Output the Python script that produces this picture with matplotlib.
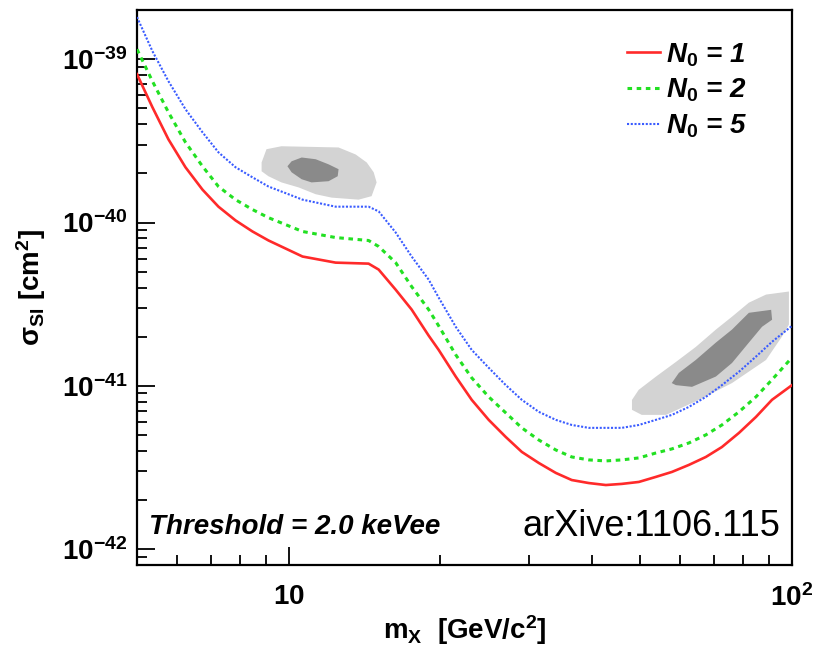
import matplotlib
matplotlib.use("Agg")
import matplotlib.pyplot as plt
from matplotlib.ticker import FixedLocator, FixedFormatter, LogLocator, NullFormatter

plt.rcParams['font.family'] = ['Liberation Sans', 'DejaVu Sans']
plt.rcParams['mathtext.fontset'] = 'custom'
plt.rcParams['mathtext.rm'] = 'Liberation Sans:bold'
plt.rcParams['mathtext.bf'] = 'Liberation Sans:bold'
plt.rcParams['mathtext.it'] = 'Liberation Sans:bold:italic'

# WIMP mass grid [GeV/c^2] and exclusion limits [cm^2]
mass = [5.0, 5.365, 5.773, 6.240, 6.745, 7.257, 7.846, 8.480, 9.125, 10.66, 12.40, 14.42,
        15.10, 16.32, 17.56, 18.98, 19.87, 21.48, 23.11, 24.98, 27.01, 29.06, 31.41, 33.95,
        36.52, 39.48, 42.68, 45.92, 49.64, 53.65, 57.73, 62.40, 67.45, 72.57, 78.46, 84.80,
        91.25, 100]

sigma_n1 = [8.09e-40, 5.08e-40, 3.23e-40, 2.18e-40, 1.59e-40, 1.25e-40, 1.03e-40, 8.81e-41,
            7.76e-41, 6.19e-41, 5.68e-41, 5.60e-41, 5.15e-41, 3.88e-41, 2.93e-41, 2.03e-41,
            1.66e-41, 1.14e-41, 8.21e-42, 6.19e-42, 4.86e-42, 3.94e-42, 3.37e-42, 2.93e-42,
            2.65e-42, 2.54e-42, 2.47e-42, 2.51e-42, 2.58e-42, 2.77e-42, 2.97e-42, 3.28e-42,
            3.67e-42, 4.22e-42, 5.15e-42, 6.45e-42, 8.21e-42, 1.01e-41]

sigma_n2 = [1.15e-39, 7.33e-40, 4.73e-40, 3.10e-40, 2.21e-40, 1.66e-40, 1.38e-40, 1.20e-40,
            1.07e-40, 8.81e-41, 8.09e-41, 7.76e-41, 7.13e-41, 5.68e-41, 4.05e-41, 2.93e-41,
            2.33e-41, 1.55e-41, 1.12e-41, 8.56e-42, 6.83e-42, 5.53e-42, 4.66e-42, 4.05e-42,
            3.67e-42, 3.52e-42, 3.47e-42, 3.52e-42, 3.62e-42, 3.88e-42, 4.11e-42, 4.47e-42,
            5.01e-42, 5.76e-42, 6.93e-42, 8.56e-42, 1.09e-41, 1.49e-41]

sigma_n5 = [1.81e-39, 1.12e-39, 7.33e-40, 4.94e-40, 3.57e-40, 2.69e-40, 2.18e-40, 1.89e-40,
            1.66e-40, 1.38e-40, 1.25e-40, 1.25e-40, 1.17e-40, 8.69e-41, 6.19e-41, 4.47e-41,
            3.47e-41, 2.30e-41, 1.66e-41, 1.29e-41, 1.01e-41, 8.21e-42, 6.93e-42, 6.19e-42,
            5.76e-42, 5.53e-42, 5.53e-42, 5.53e-42, 5.76e-42, 6.19e-42, 6.64e-42, 7.43e-42,
            8.56e-42, 1.01e-41, 1.22e-41, 1.51e-41, 1.86e-41, 2.33e-41]

# allowed regions (outer / inner contours)
low_outer_m = [8.84, 9.04, 9.68, 12.57, 13.59, 14.30, 14.76, 14.96, 14.62, 13.78, 12.18,
               11.32, 10.47, 9.68, 9.12, 8.84]
low_outer_s = [2.33e-40, 2.81e-40, 2.93e-40, 2.88e-40, 2.61e-40, 2.33e-40, 2.03e-40, 1.76e-40,
               1.45e-40, 1.38e-40, 1.42e-40, 1.49e-40, 1.64e-40, 1.76e-40, 1.92e-40, 2.06e-40]
low_inner_m = [9.95, 10.14, 10.62, 11.32, 12.01, 12.57, 12.52, 12.01, 11.11, 10.62, 10.14]
low_inner_s = [2.21e-40, 2.37e-40, 2.50e-40, 2.44e-40, 2.27e-40, 2.12e-40, 1.92e-40, 1.79e-40,
               1.76e-40, 1.84e-40, 2.03e-40]

high_outer_m = [48.1, 49.6, 53.7, 58.8, 64.4, 70.6, 76.0, 82.1, 88.8, 98.6, 98.6, 95.5, 88.8,
                76.0, 65.3, 56.2, 50.3, 48.1]
high_outer_s = [8.20e-42, 9.45e-42, 1.14e-41, 1.40e-41, 1.73e-41, 2.21e-41, 2.65e-41, 3.23e-41,
                3.62e-41, 3.78e-41, 2.37e-41, 2.00e-41, 1.44e-41, 1.04e-41, 8.20e-42, 6.64e-42,
                6.64e-42, 7.13e-42]
high_inner_m = [57.7, 59.6, 64.4, 70.6, 76.0, 82.1, 90.9, 91.3, 87.2, 82.1, 76.0, 70.6, 63.3, 58.8]
high_inner_s = [1.04e-41, 1.20e-41, 1.44e-41, 1.84e-41, 2.21e-41, 2.80e-41, 2.92e-41, 2.54e-41,
                2.30e-41, 1.84e-41, 1.38e-41, 1.14e-41, 9.86e-42, 1.01e-41]

y_ticks = [1e-42, 1e-41, 1e-40, 1e-39]
y_labels = [r'$\mathbf{10^{-42}}$', r'$\mathbf{10^{-41}}$', r'$\mathbf{10^{-40}}$', r'$\mathbf{10^{-39}}$']
x_ticks = [10, 100]
x_labels = [r'$\mathbf{10}$', r'$\mathbf{10^{2}}$']

fig = plt.figure(figsize=(8.19, 6.54), dpi=100)
ax = fig.add_axes([137 / 819, 89 / 654, 655 / 819, 555 / 654])
ax.set_xscale('log')
ax.set_yscale('log')
ax.set_xlim(5, 100)
ax.set_ylim(8e-43, 2e-39)

light, dark = '#d3d3d3', '#8a8a8a'
ax.fill(low_outer_m, low_outer_s, color=light, lw=0, zorder=1)
ax.fill(low_inner_m, low_inner_s, color=dark, lw=0, zorder=1)
ax.fill(high_outer_m, high_outer_s, color=light, lw=0, zorder=1)
ax.fill(high_inner_m, high_inner_s, color=dark, lw=0, zorder=1)

ax.plot(mass, sigma_n1, color='#ff2a2a', lw=1.9, label=r'$\mathit{N_0}$ = 1', zorder=3)
ax.plot(mass, sigma_n2, color='#22e022', lw=2.2, ls=(0, (1.5, 1.5)), label=r'$\mathit{N_0}$ = 2', zorder=3)
ax.plot(mass, sigma_n5, color='#3a5cff', lw=1.5, ls=(0, (1, 0.8)), label=r'$\mathit{N_0}$ = 5', zorder=3)

ax.yaxis.set_major_locator(FixedLocator(y_ticks))
ax.yaxis.set_major_formatter(FixedFormatter(y_labels))
ax.yaxis.set_minor_locator(LogLocator(base=10, subs=range(2, 10), numticks=20))
ax.yaxis.set_minor_formatter(NullFormatter())
ax.xaxis.set_major_locator(FixedLocator(x_ticks))
ax.xaxis.set_major_formatter(FixedFormatter(x_labels))
ax.xaxis.set_minor_locator(LogLocator(base=10, subs=range(2, 10), numticks=20))
ax.xaxis.set_minor_formatter(NullFormatter())

ax.tick_params(which='both', direction='in', top=False, right=False, width=1.3)
ax.tick_params(which='major', length=13, labelsize=20)
ax.tick_params(which='minor', length=7)
ax.tick_params(axis='x', which='major', pad=14)
ax.tick_params(axis='y', which='major', pad=7)
for s in ax.spines.values():
    s.set_linewidth(1.6)

ax.set_xlabel(r'm$_{\mathbf{X}}$  [GeV/c$^{\mathbf{2}}$]', fontsize=20, fontweight='bold', labelpad=1)
ax.set_ylabel(r'σ$_{\mathbf{SI}}$ [cm$^{\mathbf{2}}$]', fontsize=20, fontweight='bold', labelpad=10)

leg = ax.legend(loc='upper left', bbox_to_anchor=(0.748, 0.944), frameon=False,
                handlelength=1.2, handletextpad=0.2, labelspacing=0.3,
                borderaxespad=0, borderpad=0,
                prop={'weight': 'bold', 'style': 'italic', 'size': 20})

ax.text(0.018, 0.068, 'Threshold = 2.0 keVee', transform=ax.transAxes, fontsize=20,
        fontweight='bold', fontstyle='italic', va='center', ha='left')
ax.text(0.983, 0.070, 'arXive:1106.115', transform=ax.transAxes, fontsize=26,
        va='center', ha='right')

fig.savefig('out.png', dpi=100)
